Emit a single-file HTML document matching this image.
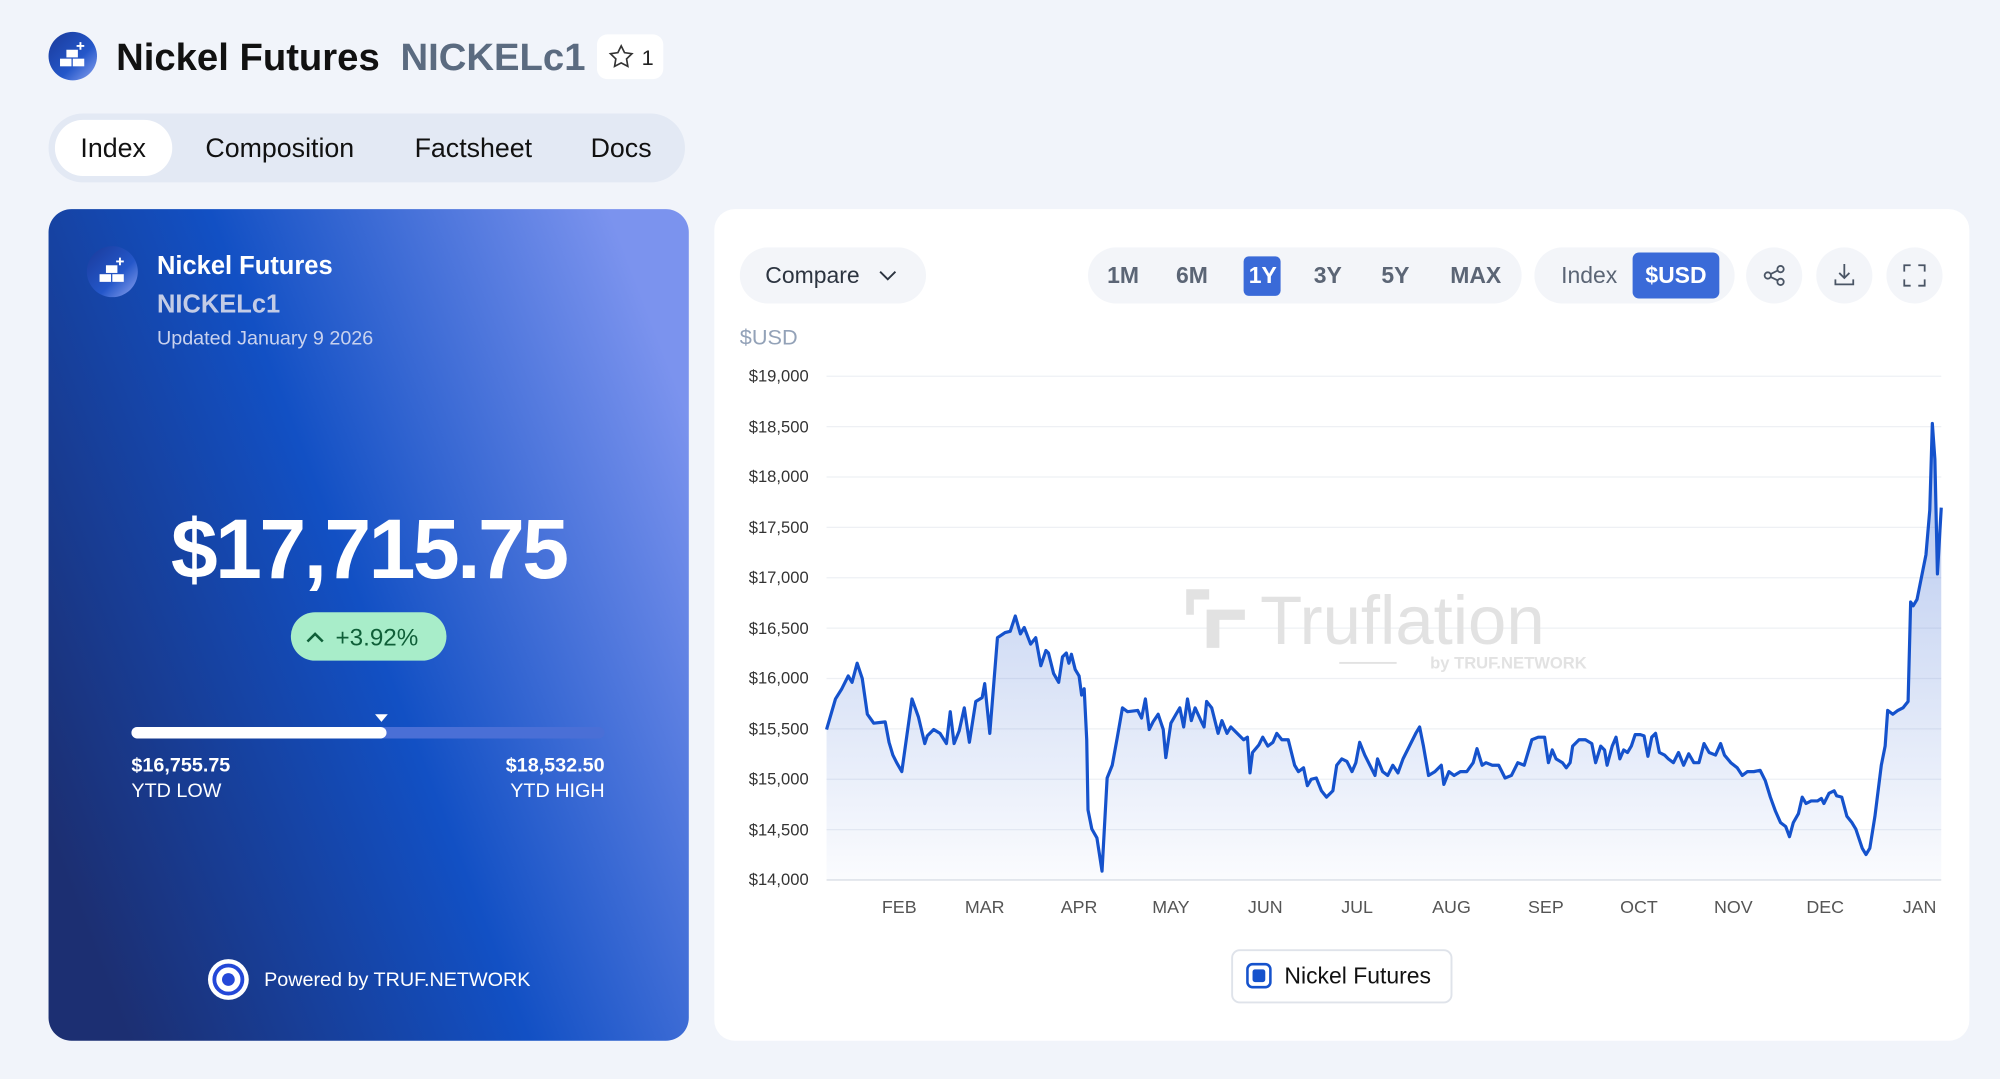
<!DOCTYPE html>
<html><head><meta charset="utf-8"><style>
html,body{margin:0;padding:0;background:#f1f4fa;width:2000px;height:1079px;overflow:hidden}
svg{display:block;font-family:"Liberation Sans",sans-serif}
</style></head><body>
<svg width="2000" height="1079" viewBox="0 0 1568 846" xmlns="http://www.w3.org/2000/svg">
<defs>
<linearGradient id="card" x1="0" y1="0.75" x2="1" y2="0.25">
<stop offset="0" stop-color="#1c2f72"/><stop offset="0.5" stop-color="#1250c4"/><stop offset="1" stop-color="#7b93ee"/>
</linearGradient>
<linearGradient id="ic" x1="0" y1="0" x2="1" y2="1">
<stop offset="0" stop-color="#1a3a9a"/><stop offset="0.6" stop-color="#2457c9"/><stop offset="1" stop-color="#8ea4f0"/>
</linearGradient>
<linearGradient id="area" x1="0" y1="0" x2="0" y2="1">
<stop offset="0" stop-color="#1f55cc" stop-opacity="0.35"/><stop offset="1" stop-color="#1f55cc" stop-opacity="0.02"/>
</linearGradient>
<path id="p" d="M648,572 L655,548 660,540 665,530 668,535 672,520 676,532 680,560 685,567 694,566 697,582 700,592 703,598 707,605 715,548 720,562 725,583 727,577 732,572 737,575 742,583 745,558 748,583 752,573 756,555 760,582 765,550 770,547 772,536 776,575 782,500 788,496 792,495 796,483 800,497 803,492 808,505 812,500 816,522 820,510 822,512 826,528 830,535 833,515 836,512 838,520 840,513 843,525 846,530 848,545 850,540 852,580 853,635 856,650 860,657 864,683 868,610 872,600 876,578 880,555 884,558 892,557 895,563 898,548 901,572 904,566 908,560 912,572 914,594 918,567 922,560 925,555 928,570 931,548 934,565 937,555 942,566 944,570 946,550 950,555 955,575 958,565 962,575 965,570 970,575 975,580 978,578 980,606 982,590 987,584 990,578 994,585 998,582 1001,575 1005,580 1010,580 1015,600 1018,605 1022,602 1025,616 1028,611 1032,610 1036,620 1040,625 1045,620 1048,600 1052,595 1056,597 1060,605 1063,598 1066,582 1070,592 1074,600 1078,608 1080,595 1084,605 1088,608 1092,600 1096,606 1100,595 1105,585 1110,575 1113,570 1116,585 1120,608 1125,605 1130,600 1132,615 1136,605 1140,608 1145,605 1150,605 1155,598 1158,587 1162,600 1165,598 1170,600 1175,600 1180,610 1185,608 1190,598 1195,600 1198,590 1201,580 1206,578 1211,578 1214,598 1217,588 1220,595 1225,598 1228,602 1231,598 1233,585 1238,580 1243,580 1248,583 1251,598 1255,585 1258,588 1260,600 1264,585 1267,578 1270,595 1273,588 1276,590 1279,585 1282,576 1286,576 1289,577 1292,593 1295,578 1298,575 1301,590 1305,592 1308,595 1312,598 1316,590 1320,600 1324,591 1328,598 1332,598 1336,583 1340,590 1345,592 1349,583 1352,592 1357,598 1362,602 1366,608 1370,605 1375,605 1380,604 1384,612 1388,625 1392,636 1396,645 1400,648 1403,656 1406,645 1410,638 1413,625 1416,630 1420,628 1425,628 1428,626 1430,630 1434,622 1438,620 1440,624 1444,625 1448,640 1452,645 1455,650 1460,665 1463,670 1466,665 1470,640 1475,600 1478,585 1480,557 1484,560 1488,557 1492,555 1496,550 1498,472 1500,475 1503,470 1507,450 1510,435 1513,400 1515,332 1517,360 1519,450 1522,398"/>
</defs>
<rect width="1568" height="846" fill="#f1f4fa"/>
<!-- header -->
<circle cx="57" cy="44" r="19" fill="url(#ic)"/>
<g fill="#fff"><rect x="47" y="46" width="9" height="6"/><rect x="57" y="46" width="9" height="6"/><rect x="52" y="39" width="9" height="6"/><path d="M63 33v6M60 36h6" stroke="#fff" stroke-width="1.5"/></g>
<text x="91" y="55" font-size="30" font-weight="bold" fill="#111">Nickel Futures</text>
<text x="314" y="55" font-size="30" font-weight="bold" fill="#5b6b80">NICKELc1</text>
<rect x="468" y="27" width="52" height="35" rx="8" fill="#fff"/>
<path d="M487 36l2.6 5.3 5.8.8-4.2 4.1 1 5.8-5.2-2.7-5.2 2.7 1-5.8-4.2-4.1 5.8-.8z" fill="none" stroke="#333" stroke-width="1.3"/>
<text x="503" y="51" font-size="17" fill="#222">1</text>
<!-- tabs -->
<rect x="38" y="89" width="499" height="54" rx="27" fill="#e3e9f4"/>
<rect x="43" y="94" width="92" height="44" rx="22" fill="#fff"/>
<g font-size="21" fill="#111"><text x="63" y="123">Index</text><text x="161" y="123">Composition</text><text x="325" y="123">Factsheet</text><text x="463" y="123">Docs</text></g>
<!-- left card -->
<rect x="38" y="164" width="502" height="652" rx="18" fill="url(#card)"/>
<circle cx="88" cy="213" r="20" fill="url(#ic)"/>
<g fill="#fff"><rect x="78" y="215" width="9" height="6"/><rect x="88" y="215" width="9" height="6"/><rect x="83" y="208" width="9" height="6"/><path d="M94 202v6M91 205h6" stroke="#fff" stroke-width="1.5"/></g>
<text x="123" y="215" font-size="20" font-weight="bold" fill="#fff">Nickel Futures</text>
<text x="123" y="245" font-size="20" font-weight="bold" fill="#c3cce6">NICKELc1</text>
<text x="123" y="270" font-size="15.5" fill="#c9d2ee">Updated January 9 2026</text>
<text x="289" y="453" font-size="66" font-weight="bold" fill="#fff" text-anchor="middle" letter-spacing="-2">$17,715.75</text>
<rect x="228" y="480" width="122" height="38" rx="19" fill="#a8edc9"/>
<path d="M241 503l6-6 6 6" fill="none" stroke="#0f5f38" stroke-width="2"/>
<text x="263" y="506" font-size="19" fill="#0f5f38">+3.92%</text>
<rect x="103" y="570" width="371" height="9" rx="4.5" fill="#4a6fd6"/>
<rect x="103" y="570" width="200" height="9" rx="4.5" fill="#fff"/>
<path d="M294 560h10l-5 6z" fill="#fff"/>
<g font-size="15.5" fill="#fff"><text x="103" y="605" font-weight="bold">$16,755.75</text><text x="103" y="625">YTD LOW</text>
<text x="474" y="605" font-weight="bold" text-anchor="end">$18,532.50</text><text x="474" y="625" text-anchor="end">YTD HIGH</text></g>
<circle cx="179" cy="768" r="16" fill="#fff"/><circle cx="179" cy="768" r="11" fill="none" stroke="#2448d8" stroke-width="3"/><circle cx="179" cy="768" r="5" fill="#2448d8"/>
<text x="207" y="773" font-size="15.5" fill="#fff">Powered by TRUF.NETWORK</text>
<!-- right card -->
<rect x="560" y="164" width="984" height="652" rx="16" fill="#fff"/>
<rect x="580" y="194" width="146" height="44" rx="22" fill="#f3f5f9"/>
<text x="600" y="222" font-size="18" fill="#2c3440">Compare</text>
<path d="M690 213l6 6 6-6" fill="none" stroke="#2c3440" stroke-width="1.5"/>
<rect x="853" y="194" width="340" height="44" rx="22" fill="#f3f5f9"/>
<rect x="975" y="201" width="29" height="31" rx="4" fill="#3a6ad8"/>
<g font-size="18" font-weight="bold" fill="#5b6575"><text x="868" y="222">1M</text><text x="922" y="222">6M</text><text x="979" y="222" fill="#fff">1Y</text><text x="1030" y="222">3Y</text><text x="1083" y="222">5Y</text><text x="1137" y="222">MAX</text></g>
<rect x="1203" y="194" width="157" height="44" rx="22" fill="#f3f5f9"/>
<rect x="1280" y="198" width="68" height="36" rx="5" fill="#3a6ad8"/>
<text x="1224" y="222" font-size="18" fill="#5b6575">Index</text>
<text x="1290" y="222" font-size="18" font-weight="bold" fill="#fff">$USD</text>
<circle cx="1391" cy="216" r="22" fill="#f3f5f9"/><circle cx="1446" cy="216" r="22" fill="#f3f5f9"/><circle cx="1501" cy="216" r="22" fill="#f3f5f9"/>
<g fill="none" stroke="#4a5565" stroke-width="1.4"><circle cx="1386" cy="216" r="2.5"/><circle cx="1396" cy="211" r="2.5"/><circle cx="1396" cy="221" r="2.5"/><path d="M1388 215l6-3M1388 217l6 3"/>
<path d="M1446 207v11M1442 214l4 4 4-4M1439 219v4h14v-4"/>
<path d="M1493 213v-5h5M1504 208h5v5M1509 219v5h-5M1498 224h-5v-5"/></g>
<text x="580" y="270" font-size="17" fill="#93a2b8">$USD</text>
<!-- grid -->
<g stroke="#eef0f4" stroke-width="1">
<line x1="648" y1="295" x2="1522" y2="295"/><line x1="648" y1="334.5" x2="1522" y2="334.5"/><line x1="648" y1="374" x2="1522" y2="374"/><line x1="648" y1="413.5" x2="1522" y2="413.5"/><line x1="648" y1="453" x2="1522" y2="453"/><line x1="648" y1="492.5" x2="1522" y2="492.5"/><line x1="648" y1="532" x2="1522" y2="532"/><line x1="648" y1="571.5" x2="1522" y2="571.5"/><line x1="648" y1="611" x2="1522" y2="611"/><line x1="648" y1="650.5" x2="1522" y2="650.5"/></g>
<line x1="648" y1="690" x2="1522" y2="690" stroke="#d8dce3"/>
<g font-size="13" fill="#333" text-anchor="end"><text x="634" y="299">$19,000</text><text x="634" y="339">$18,500</text><text x="634" y="378">$18,000</text><text x="634" y="418">$17,500</text><text x="634" y="457">$17,000</text><text x="634" y="497">$16,500</text><text x="634" y="536">$16,000</text><text x="634" y="576">$15,500</text><text x="634" y="615">$15,000</text><text x="634" y="655">$14,500</text><text x="634" y="694">$14,000</text></g>
<g font-size="14" fill="#555" text-anchor="middle"><text x="705" y="716">FEB</text><text x="772" y="716">MAR</text><text x="846" y="716">APR</text><text x="918" y="716">MAY</text><text x="992" y="716">JUN</text><text x="1064" y="716">JUL</text><text x="1138" y="716">AUG</text><text x="1212" y="716">SEP</text><text x="1285" y="716">OCT</text><text x="1359" y="716">NOV</text><text x="1431" y="716">DEC</text><text x="1505" y="716">JAN</text></g>
<!-- watermark -->
<g fill="#e2e2e2"><path d="M930 462h18v8h-12v12h-6z M946 478h30v8h-20v22h-10z"/>
<text x="988" y="505" font-size="54" fill="#e2e2e2">Truflation</text>
<text x="1244" y="524" font-size="13" font-weight="bold" text-anchor="end" fill="#e2e2e2">by TRUF.NETWORK</text>
<rect x="1050" y="519" width="45" height="1.5"/></g>
<path d="M648,572 L655,548 660,540 665,530 668,535 672,520 676,532 680,560 685,567 694,566 697,582 700,592 703,598 707,605 715,548 720,562 725,583 727,577 732,572 737,575 742,583 745,558 748,583 752,573 756,555 760,582 765,550 770,547 772,536 776,575 782,500 788,496 792,495 796,483 800,497 803,492 808,505 812,500 816,522 820,510 822,512 826,528 830,535 833,515 836,512 838,520 840,513 843,525 846,530 848,545 850,540 852,580 853,635 856,650 860,657 864,683 868,610 872,600 876,578 880,555 884,558 892,557 895,563 898,548 901,572 904,566 908,560 912,572 914,594 918,567 922,560 925,555 928,570 931,548 934,565 937,555 942,566 944,570 946,550 950,555 955,575 958,565 962,575 965,570 970,575 975,580 978,578 980,606 982,590 987,584 990,578 994,585 998,582 1001,575 1005,580 1010,580 1015,600 1018,605 1022,602 1025,616 1028,611 1032,610 1036,620 1040,625 1045,620 1048,600 1052,595 1056,597 1060,605 1063,598 1066,582 1070,592 1074,600 1078,608 1080,595 1084,605 1088,608 1092,600 1096,606 1100,595 1105,585 1110,575 1113,570 1116,585 1120,608 1125,605 1130,600 1132,615 1136,605 1140,608 1145,605 1150,605 1155,598 1158,587 1162,600 1165,598 1170,600 1175,600 1180,610 1185,608 1190,598 1195,600 1198,590 1201,580 1206,578 1211,578 1214,598 1217,588 1220,595 1225,598 1228,602 1231,598 1233,585 1238,580 1243,580 1248,583 1251,598 1255,585 1258,588 1260,600 1264,585 1267,578 1270,595 1273,588 1276,590 1279,585 1282,576 1286,576 1289,577 1292,593 1295,578 1298,575 1301,590 1305,592 1308,595 1312,598 1316,590 1320,600 1324,591 1328,598 1332,598 1336,583 1340,590 1345,592 1349,583 1352,592 1357,598 1362,602 1366,608 1370,605 1375,605 1380,604 1384,612 1388,625 1392,636 1396,645 1400,648 1403,656 1406,645 1410,638 1413,625 1416,630 1420,628 1425,628 1428,626 1430,630 1434,622 1438,620 1440,624 1444,625 1448,640 1452,645 1455,650 1460,665 1463,670 1466,665 1470,640 1475,600 1478,585 1480,557 1484,560 1488,557 1492,555 1496,550 1498,472 1500,475 1503,470 1507,450 1510,435 1513,400 1515,332 1517,360 1519,450 1522,398 L1522,690 L648,690 Z" fill="url(#area)" stroke="none"/>
<use href="#p" fill="none" stroke="#1552cc" stroke-width="2.5" stroke-linejoin="round"/>
<!-- legend -->
<rect x="966" y="745" width="172" height="41" rx="6" fill="#fff" stroke="#dfe3ea" stroke-width="1.5"/>
<rect x="978" y="756" width="18" height="18" rx="4" fill="none" stroke="#1552cc" stroke-width="2"/>
<rect x="982" y="760" width="10" height="10" rx="2" fill="#1552cc"/>
<text x="1007" y="771" font-size="18" fill="#111">Nickel Futures</text>
</svg>
</body></html>
